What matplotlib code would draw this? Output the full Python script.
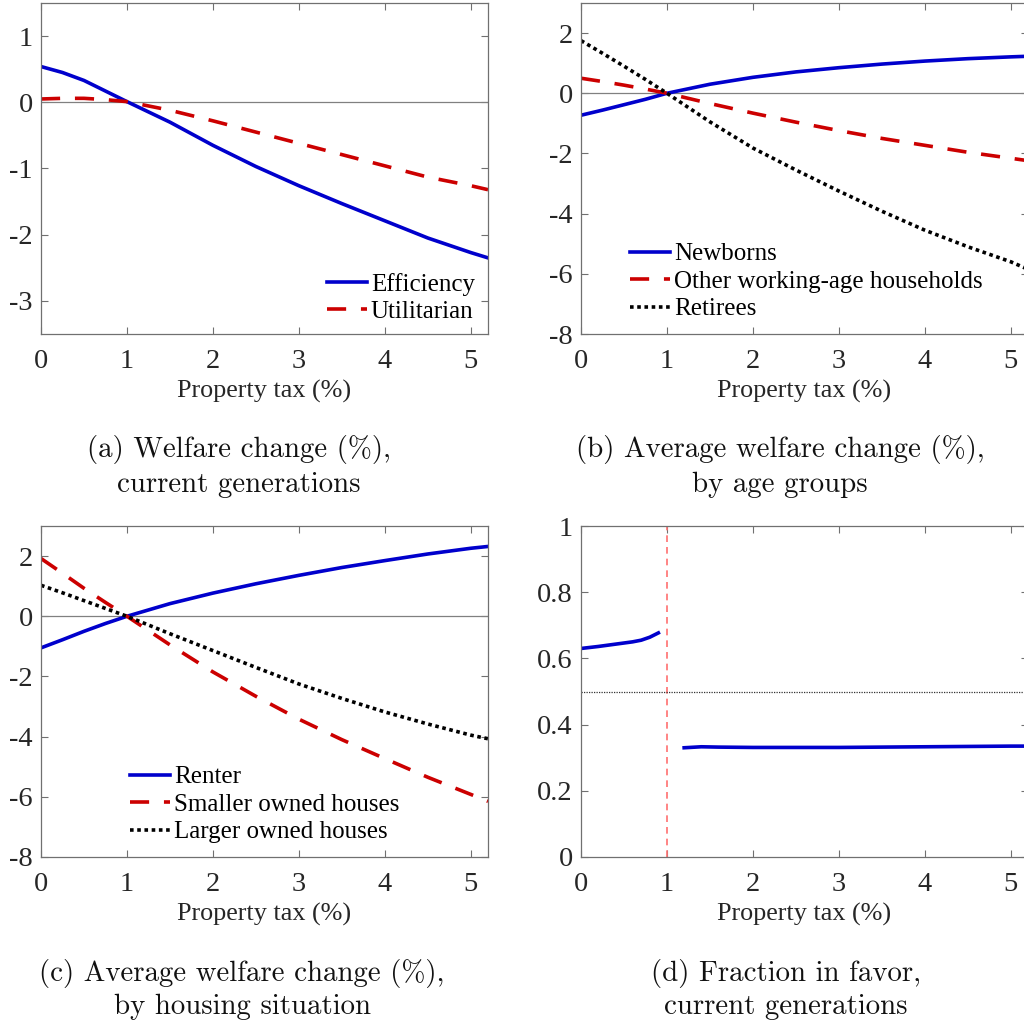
import matplotlib
matplotlib.use("Agg")
import matplotlib.pyplot as plt

plt.rcParams['font.family'] = ['Liberation Serif', 'DejaVu Serif']
plt.rcParams['axes.unicode_minus'] = False

# ---------------- data ----------------
tax = [0, 0.25, 0.5, 0.75, 1.0, 1.5, 2.0, 2.5, 3.0, 3.5, 4.0, 4.5, 5.0, 5.2]

# (a) welfare change, current generations
efficiency  = [0.54, 0.45, 0.33, 0.17, 0.01, -0.30, -0.65, -0.97, -1.26, -1.53, -1.79, -2.05, -2.27, -2.35]
utilitarian = [0.05, 0.06, 0.06, 0.04, 0.01, -0.12, -0.28, -0.45, -0.62, -0.79, -0.96, -1.13, -1.26, -1.32]

# (b) by age groups
newborns = [-0.73, -0.56, -0.38, -0.20, 0.0, 0.30, 0.53, 0.71, 0.85, 0.97, 1.07, 1.15, 1.21, 1.23]
working  = [0.50, 0.39, 0.27, 0.14, 0.0, -0.34, -0.66, -0.96, -1.24, -1.50, -1.73, -1.96, -2.16, -2.24]
retirees = [1.75, 1.33, 0.90, 0.46, 0.0, -0.95, -1.82, -2.55, -3.25, -3.92, -4.55, -5.10, -5.60, -5.85]

# (c) by housing situation
renter  = [-1.05, -0.78, -0.50, -0.24, 0.0, 0.42, 0.77, 1.08, 1.36, 1.62, 1.85, 2.07, 2.26, 2.32]
smaller = [1.92, 1.43, 0.93, 0.46, 0.0, -0.95, -1.85, -2.66, -3.42, -4.10, -4.73, -5.35, -5.92, -6.15]
larger  = [1.03, 0.78, 0.52, 0.26, 0.0, -0.58, -1.14, -1.70, -2.25, -2.73, -3.18, -3.58, -3.95, -4.07]

# (d) fraction in favor
tax_low  = [0.0, 0.2, 0.4, 0.6, 0.7, 0.8, 0.9]
favor_low = [0.630, 0.636, 0.643, 0.650, 0.655, 0.664, 0.677]
tax_high = [1.2, 1.4, 1.6, 2.0, 2.5, 3.0, 3.5, 4.0, 4.5, 5.0, 5.2]
favor_high = [0.330, 0.333, 0.332, 0.331, 0.331, 0.331, 0.332, 0.333, 0.334, 0.335, 0.335]

captions = [
    ("(a) Welfare change (%),", "current generations"),
    ("(b) Average welfare change (%),", "by age groups"),
    ("(c) Average welfare change (%),", "by housing situation"),
    ("(d) Fraction in favor,", "current generations"),
]

BLUE = '#0000CC'
RED = '#CC0000'
BLACK = '#000000'
SPINE = '#707070'
LW = 2.6

W, H = 1024, 1028
fig = plt.figure(figsize=(W / 100, H / 100), dpi=100)


def axes_px(left, top, right, bottom):
    return fig.add_axes([left / W, 1 - bottom / H, (right - left) / W, (bottom - top) / H])


def style(ax, ylim, yticks):
    ax.set_xlim(0, 5.2)
    ax.set_ylim(*ylim)
    ax.set_xticks([0, 1, 2, 3, 4, 5])
    ax.set_yticks(yticks)
    ax.tick_params(direction='in', top=True, right=True, length=5, width=0.8,
                   color=SPINE, labelsize=20.5, labelcolor='#262626')
    ax.tick_params(axis='x', pad=11)
    ax.tick_params(axis='y', pad=6)
    for s in ax.spines.values():
        s.set_color(SPINE)
        s.set_linewidth(0.9)
    ax.set_xlabel('Property tax (%)', fontsize=18.8, color='#262626', labelpad=4)


def legend(ax, x, y):
    ax.legend(loc='upper left', bbox_to_anchor=(x, y), frameon=False,
              fontsize=18, borderpad=0, borderaxespad=0, handlelength=1.6,
              handletextpad=0.15, labelspacing=0.2)


dash = (5.3, 4.1)
dot = (1.0, 1.0)

# (a)
ax = axes_px(41, 3, 488, 334)
ax.axhline(0, color='#808080', lw=0.9)
ax.plot(tax, efficiency, color=BLUE, lw=LW, label='Efficiency')
ax.plot(tax, utilitarian, color=RED, lw=LW, dashes=dash, label='Utilitarian')
style(ax, (-3.5, 1.5), [-3, -2, -1, 0, 1])
legend(ax, 0.64, 0.185)

# (b)
ax = axes_px(581, 3, 1028, 334)
ax.axhline(0, color='#808080', lw=0.9)
ax.plot(tax, newborns, color=BLUE, lw=LW, label='Newborns')
ax.plot(tax, working, color=RED, lw=LW, dashes=dash, label='Other working-age households')
ax.plot(tax, retirees, color=BLACK, lw=LW, dashes=dot, label='Retirees')
style(ax, (-8, 3), [-8, -6, -4, -2, 0, 2])
legend(ax, 0.11, 0.275)

# (c)
ax = axes_px(41, 526, 488, 857)
ax.axhline(0, color='#808080', lw=0.9)
ax.plot(tax, renter, color=BLUE, lw=LW, label='Renter')
ax.plot(tax, smaller, color=RED, lw=LW, dashes=dash, label='Smaller owned houses')
ax.plot(tax, larger, color=BLACK, lw=LW, dashes=dot, label='Larger owned houses')
style(ax, (-8, 3), [-8, -6, -4, -2, 0, 2])
legend(ax, 0.2, 0.275)

# (d)
ax = axes_px(581, 526, 1028, 857)
ax.axvline(1, color='#FF7070', lw=1.2, dashes=(4, 3))
ax.axhline(0.5, color='#333333', lw=0.9, dashes=(1, 1))
ax.plot(tax_low, favor_low, color=BLUE, lw=LW)
ax.plot(tax_high, favor_high, color=BLUE, lw=LW)
style(ax, (0, 1), [0, 0.2, 0.4, 0.6, 0.8, 1])
ax.set_yticklabels(['0', '0.2', '0.4', '0.6', '0.8', '1'])

# captions
cap_pos = [(239, 450, 485), (780, 450, 485), (242, 973, 1007), (786, 973, 1007)]
for (l1, l2), (cx, y1, y2) in zip(captions, cap_pos):
    fig.text(cx / W, 1 - y1 / H, l1, ha='center', va='center', fontsize=20.8,
             family='cmr10', color='#111111')
    fig.text(cx / W, 1 - y2 / H, l2, ha='center', va='center', fontsize=20.8,
             family='cmr10', color='#111111')

fig.savefig('out.png', dpi=100)
